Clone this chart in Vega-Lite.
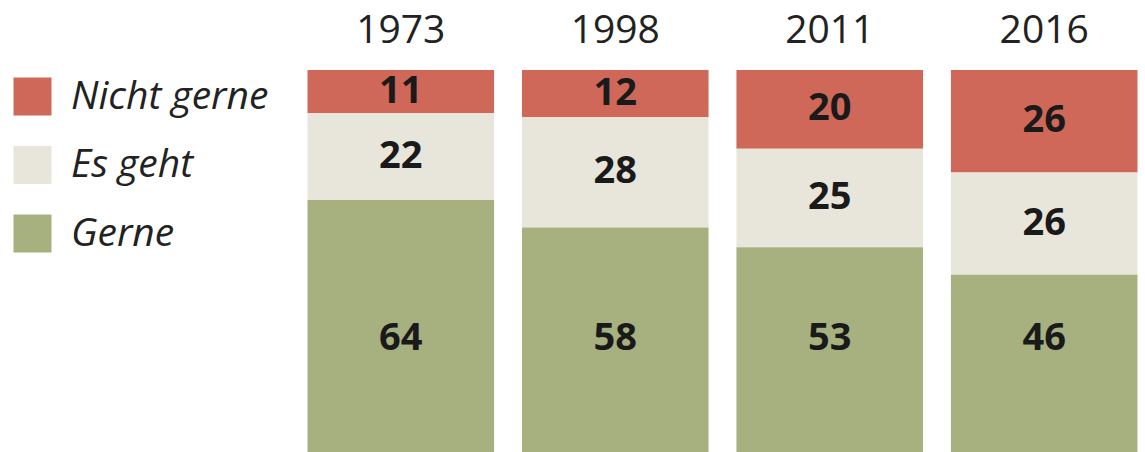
{
  "$schema": "https://vega.github.io/schema/vega-lite/v6.json",
  "width": 845,
  "height": 382,
  "autosize": {"type": "none"},
  "padding": {"left": 300, "top": 70, "right": 0, "bottom": 0},
  "background": "white",
  "config": {"view": {"stroke": null}, "font": "Open Sans"},
  "data": {
    "values": [
      {"year": "1973", "cat": "Nicht gerne", "ord": 1, "value": 11},
      {"year": "1973", "cat": "Es geht", "ord": 2, "value": 22},
      {"year": "1973", "cat": "Gerne", "ord": 3, "value": 64},
      {"year": "1998", "cat": "Nicht gerne", "ord": 1, "value": 12},
      {"year": "1998", "cat": "Es geht", "ord": 2, "value": 28},
      {"year": "1998", "cat": "Gerne", "ord": 3, "value": 58},
      {"year": "2011", "cat": "Nicht gerne", "ord": 1, "value": 20},
      {"year": "2011", "cat": "Es geht", "ord": 2, "value": 25},
      {"year": "2011", "cat": "Gerne", "ord": 3, "value": 53},
      {"year": "2016", "cat": "Nicht gerne", "ord": 1, "value": 26},
      {"year": "2016", "cat": "Es geht", "ord": 2, "value": 26},
      {"year": "2016", "cat": "Gerne", "ord": 3, "value": 46}
    ]
  },
  "encoding": {
    "x": {
      "field": "year",
      "type": "ordinal",
      "scale": {"paddingInner": 0.13, "paddingOuter": 0.035},
      "axis": {
        "orient": "top",
        "title": null,
        "domain": false,
        "ticks": false,
        "labelAngle": 0,
        "labelFont": "Open Sans",
        "labelFontSize": 39,
        "labelColor": "#222222",
        "labelPadding": 20
      }
    }
  },
  "layer": [
    {
      "mark": {"type": "bar", "clip": true},
      "encoding": {
        "y": {
          "field": "value",
          "type": "quantitative",
          "stack": "zero",
          "scale": {"domain": [0, 97], "reverse": true, "nice": false},
          "axis": null
        },
        "order": {"field": "ord", "type": "quantitative"},
        "color": {
          "field": "cat",
          "type": "nominal",
          "scale": {
            "domain": ["Nicht gerne", "Es geht", "Gerne"],
            "range": ["#cf6858", "#e8e5da", "#a7b07f"]
          },
          "legend": {
            "orient": "none",
            "legendX": -287,
            "legendY": 7,
            "title": null,
            "padding": 0,
            "symbolType": "square",
            "symbolSize": 1444,
            "symbolStrokeWidth": 0,
            "symbolOpacity": 1,
            "labelFont": "Open Sans",
            "labelFontSize": 39,
            "labelFontStyle": "italic",
            "labelColor": "#222222",
            "labelOffset": 19,
            "rowPadding": 28.5,
            "labelLimit": 400
          }
        }
      }
    },
    {
      "transform": [
        {"stack": "value", "groupby": ["year"], "sort": [{"field": "ord"}], "as": ["y0", "y1"]},
        {"filter": "datum.cat !== 'Gerne'"},
        {"fold": ["y0", "y1"], "as": ["k", "pos"]},
        {"aggregate": [{"op": "mean", "field": "pos", "as": "mid"}], "groupby": ["year", "cat", "value"]}
      ],
      "mark": {"type": "text", "font": "Open Sans", "fontSize": 38, "fontWeight": "bold", "color": "#1a1a1a", "baseline": "middle", "align": "center"},
      "encoding": {
        "y": {"field": "mid", "type": "quantitative", "scale": {"domain": [0, 97], "reverse": true, "nice": false}, "axis": null},
        "text": {"field": "value", "type": "quantitative"}
      }
    },
    {
      "transform": [{"filter": "datum.cat === 'Gerne'"}],
      "mark": {"type": "text", "font": "Open Sans", "fontSize": 38, "fontWeight": "bold", "color": "#1a1a1a", "baseline": "middle", "align": "center"},
      "encoding": {
        "y": {"datum": 68.2, "type": "quantitative", "scale": {"domain": [0, 97], "reverse": true, "nice": false}, "axis": null},
        "text": {"field": "value", "type": "quantitative"}
      }
    }
  ]
}
